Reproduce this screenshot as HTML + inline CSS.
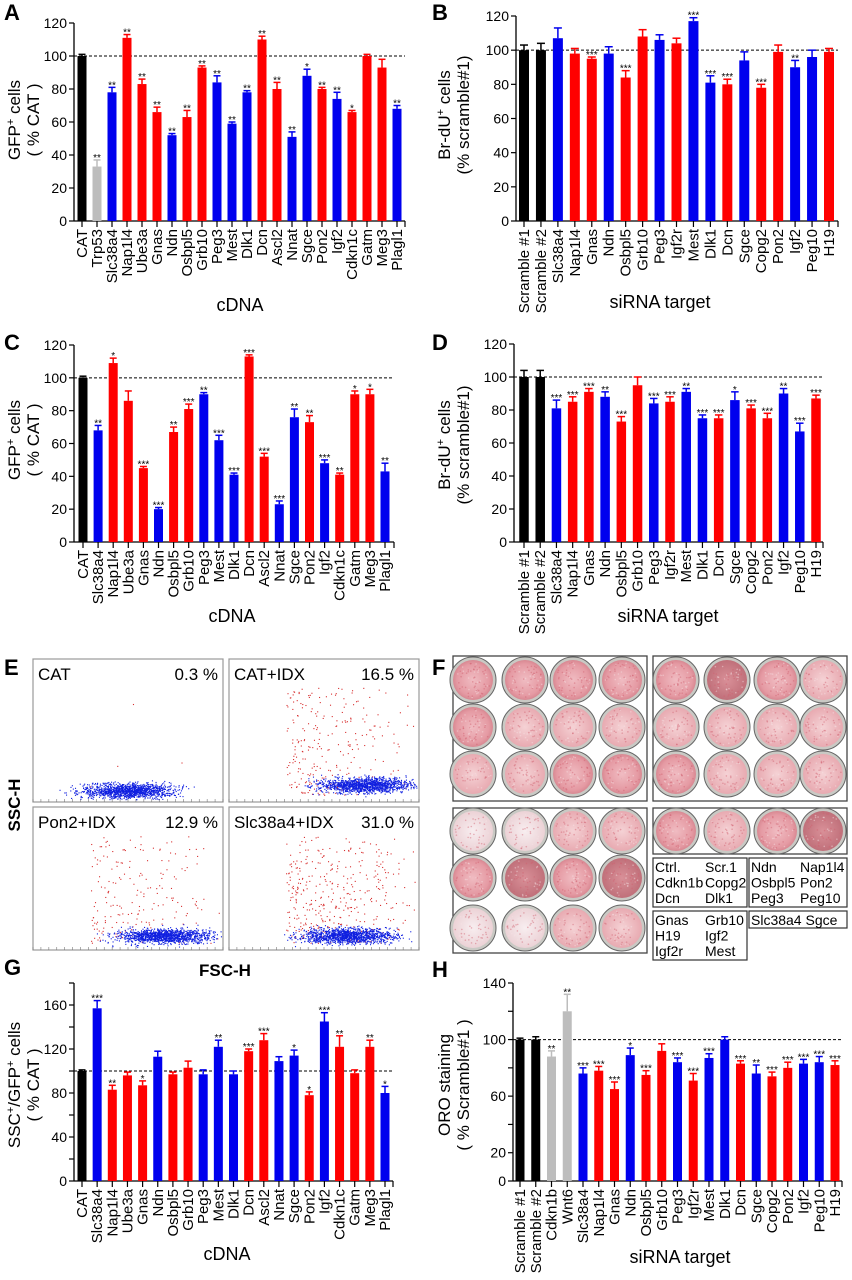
<!DOCTYPE html>
<html><head><meta charset="utf-8">
<style>
html,body{margin:0;padding:0;background:#fff;}
svg{display:block;font-family:"Liberation Sans",Arial,sans-serif;}
</style></head>
<body>
<svg id="fig" width="852" height="1280" viewBox="0 0 852 1280" xmlns="http://www.w3.org/2000/svg">
<defs>
<radialGradient id="wellPink" cx="50%" cy="50%" r="50%"><stop offset="0%" stop-color="#f0bcc2"/><stop offset="80%" stop-color="#e59aa3"/><stop offset="100%" stop-color="#d88892"/></radialGradient>
<radialGradient id="wellDark" cx="50%" cy="50%" r="50%"><stop offset="0%" stop-color="#d99098"/><stop offset="100%" stop-color="#c0707a"/></radialGradient>
<radialGradient id="wellPale" cx="50%" cy="50%" r="50%"><stop offset="0%" stop-color="#f8eef0"/><stop offset="100%" stop-color="#ecd2d6"/></radialGradient>
<radialGradient id="wellLight" cx="50%" cy="50%" r="50%"><stop offset="0%" stop-color="#f5d2d5"/><stop offset="100%" stop-color="#e8aab1"/></radialGradient>
</defs>
</svg>
<script>
// ---------- Panel A data ----------
const catsA = ["CAT","Trp53","Slc38a4","Nap1l4","Ube3a","Gnas","Ndn","Osbpl5","Grb10","Peg3","Mest","Dlk1","Dcn","Ascl2","Nnat","Sgce","Pon2","Igf2","Cdkn1c","Gatm","Meg3","Plagl1"];
const valsA = [100,33,78,111,83,66,52,63,93,84,59,78,110,80,51,88,80,74,66,100,93,68];
const errsA = [1,4,3,2,3,3,1,4,1,4,1,1,2,4,3,4,1,4,1,1,5,2];
const colsA = ["k","g","b","r","r","r","b","r","r","b","b","b","r","r","b","b","r","b","r","r","r","b"];
const starsA = ["","**","**","**","**","**","**","**","**","**","**","**","**","**","**","*","**","**","*","","","**"];
// ---------- Panel B data ----------
const catsB = ["Scramble  #1","Scramble  #2","Slc38a4","Nap1l4","Gnas","Ndn","Osbpl5","Grb10","Peg3","Igf2r","Mest","Dlk1","Dcn","Sgce","Copg2","Pon2","Igf2","Peg10","H19"];
const valsB = [100,100,107,98,95,98,84,108,106,104,117,81,80,94,78,99,90,96,99];
const errsB = [3,4,6,3,1,4,4,4,3,3,2,4,3,5,2,4,4,4,2];
const colsB = ["k","k","b","r","r","b","r","r","b","r","b","b","r","b","r","r","b","b","r"];
const starsB = ["","","","","***","","***","","","","***","***","***","","***","","**","",""];
// ---------- Panel C data ----------
const catsC = ["CAT","Slc38a4","Nap1l4","Ube3a","Gnas","Ndn","Osbpl5","Grb10","Peg3","Mest","Dlk1","Dcn","Ascl2","Nnat","Sgce","Pon2","Igf2","Cdkn1c","Gatm","Meg3","Plagl1"];
const valsC = [100,68,109,86,45,20,67,81,90,62,41,113,52,23,76,73,48,41,90,90,43];
const errsC = [1,3,3,6,1,1,3,3,1,3,1,1,2,2,5,4,2,1,2,3,5];
const colsC = ["k","b","r","r","r","b","r","r","b","b","b","r","r","b","b","r","b","r","r","r","b"];
const starsC = ["","**","*","","***","***","**","***","**","***","***","***","***","***","**","**","***","**","*","*","**"];
// ---------- Panel D data ----------
const catsD = catsB.slice();
const valsD = [100,100,81,85,91,88,73,95,84,85,91,75,75,86,81,75,90,67,87];
const errsD = [4,4,5,3,2,3,3,5,3,3,2,2,2,5,2,3,3,5,2];
const colsD = ["k","k","b","r","r","b","r","r","b","r","b","b","r","b","r","r","b","b","r"];
const starsD = ["","","***","***","***","**","***","","***","***","**","***","***","*","***","***","**","***","***"];
// ---------- Panel G data ----------
const catsG = catsC.slice();
const valsG = [100,157,83,96,87,113,97,103,97,122,97,118,128,109,114,78,145,122,98,122,80];
const errsG = [1,7,4,3,4,5,2,6,4,6,3,2,6,4,5,3,8,10,3,6,6];
const colsG = ["k","b","r","r","r","b","r","r","b","b","b","r","r","b","b","r","b","r","r","r","b"];
const starsG = ["","***","**","","*","","","","","**","","***","***","","*","*","***","**","","**","*"];
// ---------- Panel H data ----------
const catsH = ["Scramble  #1","Scramble  #2","Cdkn1b","Wnt6","Slc38a4","Nap1l4","Gnas","Ndn","Osbpl5","Grb10","Peg3","Igf2r","Mest","Dlk1","Dcn","Sgce","Copg2","Pon2","Igf2","Peg10","H19"];
const valsH = [100,100,88,120,76,78,65,89,75,92,84,71,87,100,83,76,74,80,83,84,82];
const errsH = [1,2,4,12,4,3,5,5,3,5,3,5,3,2,2,6,3,4,3,4,3];
const colsH = ["k","k","g","g","b","r","r","b","r","r","b","r","b","b","r","b","r","r","b","b","r"];
const starsH = ["","","**","**","***","***","***","*","***","","***","***","***","","***","**","***","***","***","***","***"];

const NS="http://www.w3.org/2000/svg";
const svg=document.getElementById('fig');
const COLORS={k:"#000000",g:"#bdbdbd",b:"#0000ee",r:"#ff0000"};
function mk(tag,attrs,parent){const e=document.createElementNS(NS,tag);for(const k in attrs)e.setAttribute(k,attrs[k]);(parent||svg).appendChild(e);return e;}
function txt(s,attrs,parent){const e=mk('text',attrs,parent);e.textContent=s;return e;}

function barChart(o){
  const g=mk('g',{});
  
  
  const n=o.cats.length;
  const y=v=>o.y0-(v/o.ymax)*(o.y0-o.ytop);
  const x=i=>o.xFirst+i*(o.xLast-o.xFirst)/(n-1);
  const ya=mk('line',{x1:o.ax,y1:o.y0,x2:o.ax,y2:o.ytop,stroke:'#000','stroke-width':1.3},g);
  
  
  for(let v=0;v<=o.ymax;v+=o.minor){
    mk('line',{x1:o.ax-5,y1:y(v),x2:o.ax,y2:y(v),stroke:'#000','stroke-width':1.2},g);
  }
  o.ticks.forEach(v=>{
    const t=txt(String(v),{x:o.ax-7,y:y(v)+5,'font-size':14,'text-anchor':'end'},g);
    
    
  });
  const xa=mk('line',{x1:o.ax,y1:o.y0,x2:o.xEnd,y2:o.y0,stroke:'#000','stroke-width':1.3},g);
  
  
  mk('line',{x1:o.xEnd,y1:o.y0,x2:o.xEnd,y2:o.y0+6,stroke:'#000','stroke-width':1.2},g);
  const ref=mk('line',{x1:o.ax,y1:y(100),x2:o.xEnd,y2:y(100),stroke:'#000','stroke-width':1,'stroke-dasharray':'3,2'},g);
  
  
  for(let i=0;i<n;i++){
    const cx=x(i),c=COLORS[o.cols[i]];
    const top=y(o.vals[i]);
    const b=mk('rect',{x:cx-o.bw/2,y:top,width:o.bw,height:o.y0-top,fill:c},g);
    
    
    const et=y(o.vals[i]+o.errs[i]);
    mk('line',{x1:cx,y1:top,x2:cx,y2:et,stroke:c,'stroke-width':1.5},g);
    mk('line',{x1:cx-o.bw/2+1,y1:et,x2:cx+o.bw/2-1,y2:et,stroke:c,'stroke-width':1.5},g);
    if(o.stars[i]){
      const s=txt(o.stars[i],{x:cx,y:et+1,'font-size':10,'text-anchor':'middle',fill:'#000'},g);
      
      
    }
    mk('line',{x1:cx,y1:o.y0,x2:cx,y2:o.y0+6,stroke:'#000','stroke-width':1.2},g);
    const lt=txt(o.cats[i],{x:0,y:0,'font-size':15,'text-anchor':'end',transform:`translate(${cx+5},${o.y0+8}) rotate(-90)`},g);
    
    
  }
  const xt=txt(o.xTitle,{x:o.xTitleX,y:o.xTitleY,'font-size':18,'text-anchor':'middle'},g);
  
  
  const yt=mk('text',{'font-size':17,'text-anchor':'middle',transform:`translate(${o.yTitleX},${o.yTitleY}) rotate(-90)`},g);
  
  
  const t1=mk('tspan',{x:0,y:0},yt);t1.innerHTML=o.yT1;
  const t2=mk('tspan',{x:0,y:19},yt);t2.textContent=o.yT2;
  const L=txt(o.letter,{x:o.lx,y:o.ly,'font-size':22,'font-weight':'bold'},g);
  
  
}

barChart({name:'chart-a-gfp-cdna',cats:catsA,vals:valsA,errs:errsA,cols:colsA,stars:starsA,ax:74,y0:221,ytop:23,ymax:120,minor:20,ticks:[0,20,40,60,80,100,120],xFirst:82,xLast:397,xEnd:405,bw:9,xTitle:'cDNA',xTitleX:240,xTitleY:311,yTitleX:20,yTitleY:120,yT1:'GFP<tspan baseline-shift="super" font-size="11">+</tspan> cells',yT2:'( % CAT )',letter:'A',lx:4,ly:20});
barChart({name:'chart-b-brdu-sirna',cats:catsB,vals:valsB,errs:errsB,cols:colsB,stars:starsB,ax:516,y0:221,ytop:16,ymax:120,minor:20,ticks:[0,20,40,60,80,100,120],xFirst:524,xLast:829,xEnd:838,bw:10,xTitle:'siRNA target',xTitleX:660,xTitleY:308,yTitleX:450,yTitleY:115,yT1:'Br-dU<tspan baseline-shift="super" font-size="11">+</tspan> cells',yT2:'(% scramble#1)',letter:'B',lx:432,ly:20});
barChart({name:'chart-c-gfp-cdna',cats:catsC,vals:valsC,errs:errsC,cols:colsC,stars:starsC,ax:74,y0:542,ytop:345,ymax:120,minor:20,ticks:[0,20,40,60,80,100,120],xFirst:83,xLast:385,xEnd:394,bw:9,xTitle:'cDNA',xTitleX:232,xTitleY:622,yTitleX:20,yTitleY:440,yT1:'GFP<tspan baseline-shift="super" font-size="11">+</tspan> cells',yT2:'( % CAT )',letter:'C',lx:4,ly:350});
barChart({name:'chart-d-brdu-sirna',cats:catsD,vals:valsD,errs:errsD,cols:colsD,stars:starsD,ax:514,y0:542,ytop:344,ymax:120,minor:20,ticks:[0,20,40,60,80,100,120],xFirst:524,xLast:816,xEnd:823,bw:9.5,xTitle:'siRNA target',xTitleX:668,xTitleY:622,yTitleX:450,yTitleY:445,yT1:'Br-dU<tspan baseline-shift="super" font-size="11">+</tspan> cells',yT2:'(% scramble#1)',letter:'D',lx:432,ly:350});
barChart({name:'chart-g-ssc-gfp-cdna',cats:catsG,vals:valsG,errs:errsG,cols:colsG,stars:starsG,ax:74,y0:1181,ytop:983,ymax:180,minor:20,ticks:[0,40,80,120,160],xFirst:82,xLast:385,xEnd:393,bw:9,xTitle:'cDNA',xTitleX:227,xTitleY:1260,yTitleX:20,yTitleY:1085,yT1:'SSC<tspan baseline-shift="super" font-size="11">+</tspan>/GFP<tspan baseline-shift="super" font-size="11">+</tspan> cells',yT2:'( % CAT )',letter:'G',lx:4,ly:975});
barChart({name:'chart-h-oro-sirna',cats:catsH,vals:valsH,errs:errsH,cols:colsH,stars:starsH,ax:513,y0:1181,ytop:983,ymax:140,minor:20,ticks:[0,20,60,100,140],xFirst:520,xLast:835,xEnd:842,bw:9,xTitle:'siRNA target',xTitleX:680,xTitleY:1263,yTitleX:450,yTitleY:1085,yT1:'ORO staining',yT2:'( % Scramble#1 )',letter:'H',lx:432,ly:977});

// ---------- Panel E: flow cytometry ----------
const flowPanels=[
 {label:'CAT',pct:'0.3 %',x:33,y:659,red:4,blue:1300,bx:0.5,by:0.9},
 {label:'CAT+IDX',pct:'16.5 %',x:229,y:659,red:260,blue:1300,bx:0.72,by:0.86},
 {label:'Pon2+IDX',pct:'12.9 %',x:33,y:807,red:200,blue:1300,bx:0.7,by:0.88},
 {label:'Slc38a4+IDX',pct:'31.0 %',x:229,y:807,red:380,blue:1300,bx:0.62,by:0.88}
];
let seed=7;function rnd(){seed=(seed*16807)%2147483647;return seed/2147483647;}
function gauss(){return (rnd()+rnd()+rnd()+rnd()-2)/2;}
const W=190,H=143;
flowPanels.forEach(p=>{
  const g=mk('g',{});
  
  
  mk('rect',{x:p.x,y:p.y,width:W,height:H,fill:'#fff',stroke:'#999','stroke-width':1.2},g);
  for(let i=0;i<=24;i++)mk('line',{x1:p.x+i*W/24,y1:p.y+H,x2:p.x+i*W/24,y2:p.y+H-3,stroke:'#777','stroke-width':0.6},g);
  let made=0,guard=0;
  while(made<p.red&&guard<20000){
    guard++;
    const fx=0.3+rnd()*0.68, fy=0.2+rnd()*0.75;
    const pAcc=Math.max(0,1-(fx-0.3)*1.3)*(0.4+fy*0.8);
    if(rnd()>pAcc)continue;
    made++;
    mk('rect',{x:p.x+fx*W,y:p.y+fy*H,width:1.1,height:1.1,fill:'#d83030'},g);
  }
  for(let i=0;i<p.blue;i++){
    const fx=p.bx+gauss()*0.42, fy=p.by+gauss()*0.09+0.02;
    if(fx<0.05||fx>0.99||fy>0.98||fy<0.6)continue;
    mk('rect',{x:p.x+fx*W,y:p.y+fy*H,width:1.1,height:1.1,fill:'#1020e0'},g);
  }
  txt(p.label,{x:p.x+5,y:p.y+21,'font-size':17},g);
  txt(p.pct,{x:p.x+W-5,y:p.y+21,'font-size':17,'text-anchor':'end'},g);
});
const eL=txt('E',{x:4,y:675,'font-size':22,'font-weight':'bold'});

const ssc=txt('SSC-H',{x:0,y:0,'font-size':17,'font-weight':'bold','text-anchor':'middle',transform:'translate(20,805) rotate(-90)'});

const fsc=txt('FSC-H',{x:225,y:976,'font-size':17,'font-weight':'bold','text-anchor':'middle'});


// ---------- Panel F: ORO plates ----------
const fL=txt('F',{x:432,y:675,'font-size':22,'font-weight':'bold'});

const plates=[
 {x:453,y:656,w:194,h:145,cols:[473,525,573,622],rows:[680,727,774],fill:[['wellPink','wellPink','wellPink','wellPink'],['wellPink','wellLight','wellLight','wellLight'],['wellLight','wellLight','wellPink','wellPink']]},
 {x:653,y:656,w:194,h:145,cols:[676,727,777,823],rows:[680,727,774],fill:[['wellPink','wellDark','wellPink','wellLight'],['wellLight','wellLight','wellLight','wellLight'],['wellPink','wellLight','wellLight','wellLight']]},
 {x:453,y:808,w:194,h:145,cols:[473,525,573,622],rows:[831,878,928],fill:[['wellPale','wellPale','wellLight','wellLight'],['wellPink','wellDark','wellPink','wellDark'],['wellPale','wellPale','wellLight','wellLight']]},
 {x:653,y:808,w:194,h:46,cols:[676,727,777,823],rows:[831],fill:[['wellPink','wellLight','wellPink','wellDark']]}
];
plates.forEach((p,pi)=>{
  const g=mk('g',{});
  
  
  mk('rect',{x:p.x,y:p.y,width:p.w,height:p.h,fill:'#fff',stroke:'#444','stroke-width':1.3},g);
  p.rows.forEach((ry,ri)=>p.cols.forEach((cx,ci)=>{
    mk('circle',{cx:cx,cy:ry,r:23,fill:'#c9c9c4',stroke:'#666','stroke-width':1},g);
    mk('circle',{cx:cx,cy:ry,r:20,fill:'url(#'+p.fill[ri][ci]+')'},g);
    for(let k=0;k<60;k++){
      const a=rnd()*6.283,r=Math.sqrt(rnd())*18;
      mk('circle',{cx:cx+Math.cos(a)*r,cy:ry+Math.sin(a)*r,r:0.8,fill:rnd()<0.6?'#d0606e':'#f6e2e4','fill-opacity':0.45},g);
    }
  }));
});
const legends=[
 {x:653,y:858,w:94,h:49,l:['Ctrl.','Cdkn1b','Dcn'],r:['Scr.1','Copg2','Dlk1']},
 {x:749,y:858,w:98,h:49,l:['Ndn','Osbpl5','Peg3'],r:['Nap1l4','Pon2','Peg10']},
 {x:653,y:911,w:94,h:49,l:['Gnas','H19','Igf2r'],r:['Grb10','Igf2','Mest']},
 {x:749,y:911,w:98,h:17,l:['Slc38a4 Sgce'],r:[]}
];
legends.forEach((L,li)=>{
  const g=mk('g',{});
  
  
  mk('rect',{x:L.x,y:L.y,width:L.w,height:L.h,fill:'#fff',stroke:'#333','stroke-width':1.2},g);
  L.l.forEach((s,i)=>txt(s,{x:L.x+2,y:L.y+14+i*15.5,'font-size':14},g));
  L.r.forEach((s,i)=>txt(s,{x:L.x+(li%2?51:52),y:L.y+14+i*15.5,'font-size':14},g));
});
</script>
</body></html>
